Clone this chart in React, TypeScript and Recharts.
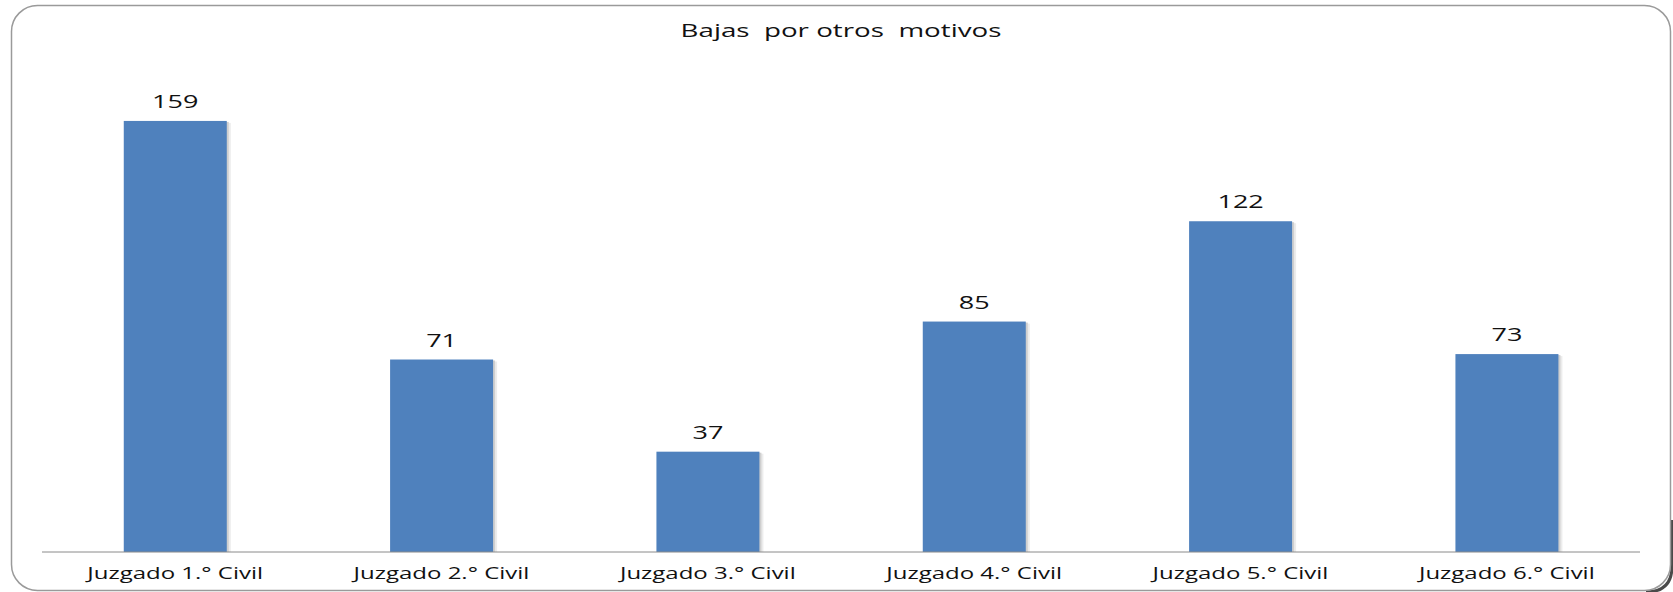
import React from 'react';
import { BarChart, Bar, XAxis, YAxis, LabelList } from 'recharts';

const categories = [
  'Juzgado 1.° Civil',
  'Juzgado 2.° Civil',
  'Juzgado 3.° Civil',
  'Juzgado 4.° Civil',
  'Juzgado 5.° Civil',
  'Juzgado 6.° Civil',
];
const bajas = [159, 71, 37, 85, 122, 73];
const title = 'Bajas  por otros  motivos';

const data = categories.map((name, i) => ({ name, value: bajas[i] }));

const W = 1673;
const H = 592;
const FONT = '"Open Sans", sans-serif';
const STRETCH = 1.5;

function ShadowBar(props: any) {
  const { x, y, width, height } = props;
  if (!height || height <= 0) return null;
  return (
    <g>
      <rect x={x + 4} y={y + 2} width={width} height={height - 2} fill="#ececec" />
      <rect x={x + 2} y={y + 1} width={width} height={height - 1} fill="#cfcfcf" />
      <rect x={x} y={y} width={width} height={height} fill="#4f81bd" />
    </g>
  );
}

function ValueLabel(props: any) {
  const { x, y, width, value } = props;
  return (
    <text
      transform={`translate(${x + width / 2}, ${y - 13}) scale(${STRETCH}, 1)`}
      textAnchor="middle"
      fontFamily={FONT}
      fontSize={18}
      fill="#111"
    >
      {value}
    </text>
  );
}

function CategoryTick(props: any) {
  const { x, y, payload } = props;
  return (
    <text
      transform={`translate(${x}, ${y + 19}) scale(${STRETCH}, 1)`}
      textAnchor="middle"
      fontFamily={FONT}
      fontSize={16}
      fill="#111"
    >
      {payload.value}
    </text>
  );
}

export default function App() {
  return (
    <div style={{ position: 'absolute', left: 0, top: 0, width: W, height: H, background: '#fff' }}>
      <BarChart
        width={W}
        height={H}
        data={data}
        margin={{ top: 64, right: 33, left: 42, bottom: 0 }}
        barCategoryGap="30.7%"
      >
        <XAxis
          dataKey="name"
          height={40}
          axisLine={{ stroke: '#8a8a8a', strokeWidth: 1 }}
          tickLine={false}
          tick={<CategoryTick />}
          interval={0}
        />
        <YAxis hide domain={[0, 180]} />
        <Bar dataKey="value" shape={<ShadowBar />} isAnimationActive={false}>
          <LabelList dataKey="value" content={<ValueLabel />} />
        </Bar>
      </BarChart>
      <svg
        width={W}
        height={H}
        style={{ position: 'absolute', left: 0, top: 0, pointerEvents: 'none' }}
      >
        <path
          d="M 1672 520 L 1672 566 Q 1672 592 1646 592"
          fill="none"
          stroke="#4a4a4a"
          strokeWidth={3}
        />
        <rect x={11.5} y={5.5} width={1659} height={585} rx={26} fill="none" stroke="#9a9a9a" strokeWidth={1.5} />
        <text
          transform={`translate(841, 37) scale(${STRETCH}, 1)`}
          textAnchor="middle"
          fontFamily={FONT}
          fontSize={18.5}
          fill="#111"
          style={{ whiteSpace: 'pre' }}
        >
          {title}
        </text>
      </svg>
    </div>
  );
}
